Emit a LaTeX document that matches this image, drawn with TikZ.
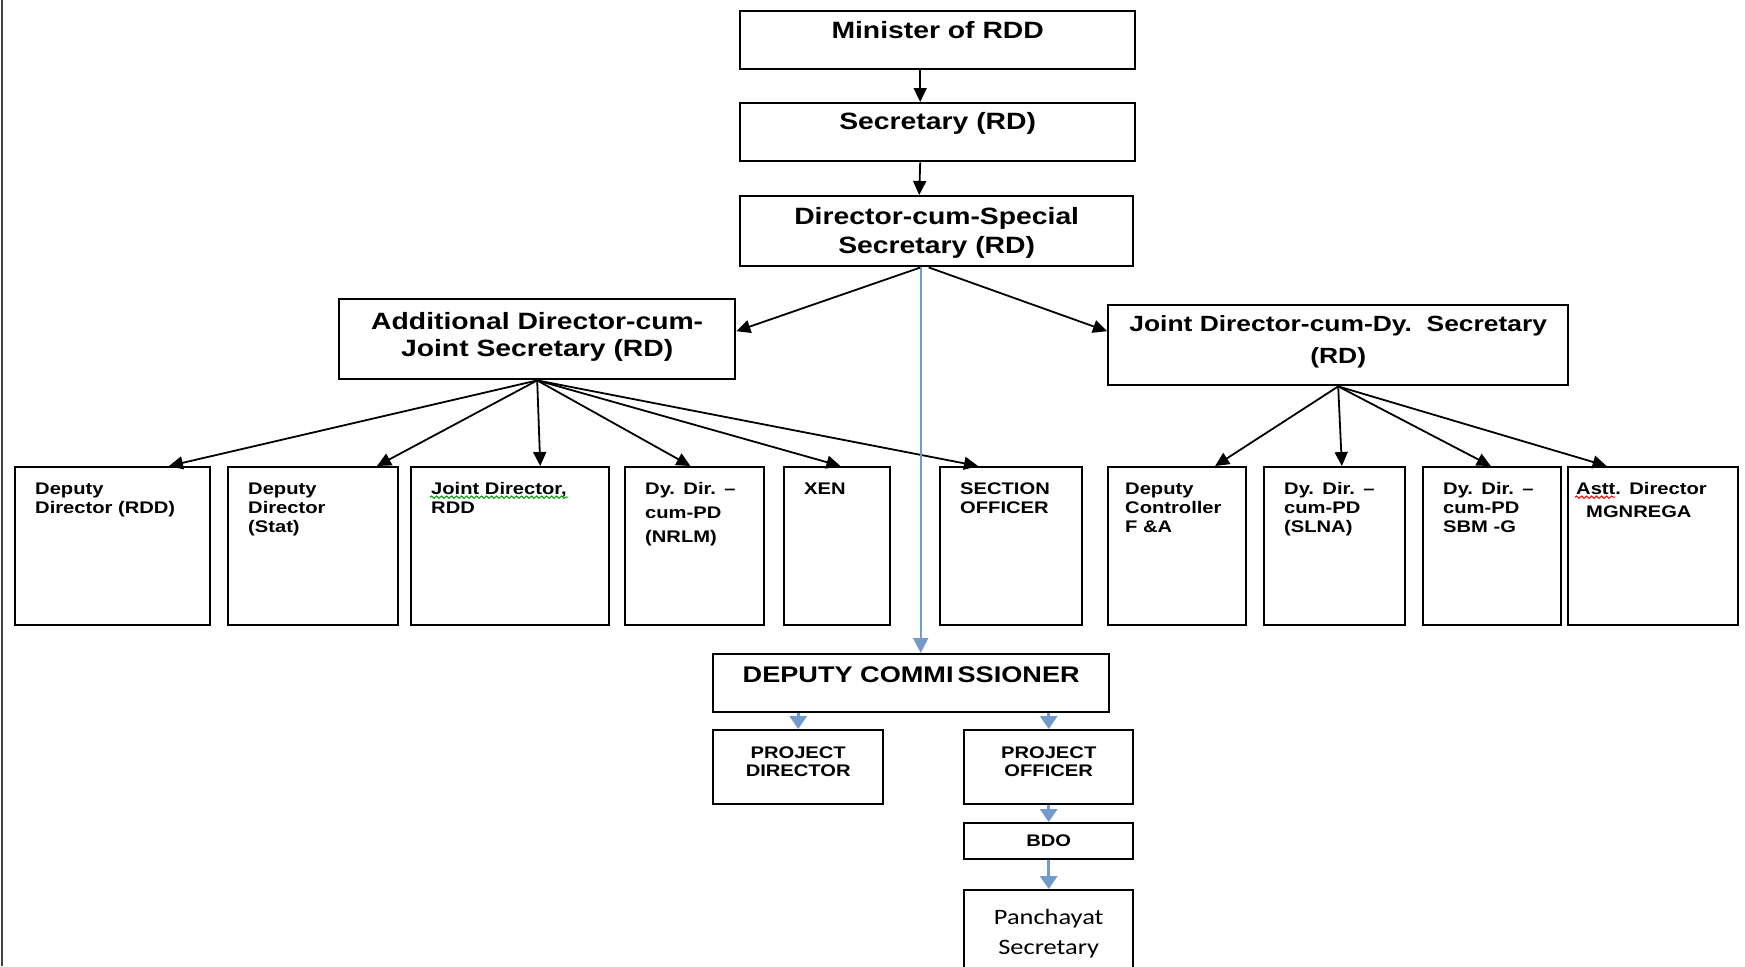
\documentclass[tikz,border=0pt]{standalone}
\usepackage{fontspec}
\setmainfont{Liberation Sans}[FakeStretch=1.2]
\newfontfamily\calfont{Carlito}[FakeStretch=1.2]
\usetikzlibrary{arrows.meta,calc,decorations.pathmorphing}

\definecolor{linkblue}{RGB}{114,155,204}

\tikzset{
    post/.style={draw, line width=1.2pt, anchor=north west, inner ysep=0pt},
    headpost/.style={post, inner xsep=0pt, align=center, font=\bfseries\fontsize{11.8}{14.5}\selectfont},
    unit/.style={post, inner xsep=10pt, align=left, text height=13.5pt, text depth=65.5pt,
        font=\bfseries\fontsize{8.4}{9.6}\selectfont},
    link/.style={-{Triangle[length=7pt,width=6.5pt]}, line width=0.9pt},
    bluelink/.style={-{Triangle[length=7.5pt,width=7.5pt]}, line width=1pt, linkblue},
    stub/.style={-{Triangle[length=6.5pt,width=8.5pt]}, line width=1.6pt, linkblue},
    squiggle/.style={decorate, decoration={snake, amplitude=0.6pt, segment length=2.5pt}, line width=0.5pt}
}

\begin{document}
\begin{tikzpicture}[x=0.5pt,y=-0.5pt]
    \useasboundingbox (0,0) rectangle (1745,966);
    \clip (0,0) rectangle (1745,966);

    % page edge
    \draw[line width=1.2pt, black!75] (2,0) -- (2,966);

    % head of the department
    \node[headpost, text width=197.5pt, text height=13.5pt, text depth=15.5pt] (min) at (739,10) {Minister of RDD};
    \node[headpost, text width=197.5pt, text height=13pt, text depth=16pt] (sec) at (739,102) {Secretary (RD)};
    \node[headpost, text width=196.5pt, text height=14pt, text depth=21pt] (dir) at (739,195) {Director-cum-Special\\Secretary (RD)};
    \node[headpost, text width=198pt, text height=15pt, text depth=25pt,
        font=\bfseries\fontsize{11.8}{13.5}\selectfont] (add) at (338,298) {Additional Director-cum-\\Joint Secretary (RD)};
    \node[headpost, text width=230pt, text height=13pt, text depth=27pt,
        font=\bfseries\fontsize{11}{16}\selectfont] (jd) at (1107,304) {Joint Director-cum-Dy.\ \ Secretary\\(RD)};

    % officers under the two directors
    \node[unit, text width=77.5pt] (u1) at (14,466) {Deputy\\Director (RDD)};
    \node[unit, text width=65pt] (u2) at (227,466) {Deputy\\Director\\(Stat)};
    \node[unit, text width=79pt] (u3) at (410,466) {Joint Director,\\RDD};
    \node[unit, text width=49.5pt, font=\bfseries\fontsize{8.4}{12}\selectfont] (u4) at (624,466) {Dy. Dir. –\\cum-PD\\(NRLM)};
    \node[unit, text width=33pt] (u5) at (783,466) {XEN};
    \node[unit, text width=51pt] (u6) at (939,466) {SECTION\\OFFICER};
    \node[unit, inner xsep=8.5pt, text width=52pt] (u7) at (1107,466) {Deputy\\Controller\\F \&A};
    \node[unit, text width=50.5pt] (u8) at (1263,466) {Dy. Dir. –\\cum-PD\\(SLNA)};
    \node[unit, text width=49pt] (u9) at (1422,466) {Dy. Dir. –\\cum-PD\\SBM -G};
    \node[unit, inner xsep=4pt, text width=77pt, font=\bfseries\fontsize{8.4}{11.7}\selectfont] (u10) at (1567,466) {Astt. Director\\\hspace*{5pt}MGNREGA};

    % district level
    \node[headpost, text width=198pt, text height=14pt, text depth=15pt,
        font=\bfseries\fontsize{11.3}{14}\selectfont] (dc) at (712,653) {DEPUTY COMMI\kern2pt SSIONER};
    \node[headpost, text width=85pt, text height=14pt, text depth=23pt,
        font=\bfseries\fontsize{8.4}{9}\selectfont] (pd) at (712,729) {PROJECT\\DIRECTOR};
    \node[headpost, text width=84.5pt, text height=14pt, text depth=23pt,
        font=\bfseries\fontsize{8.4}{9}\selectfont] (po) at (963,729) {PROJECT\\OFFICER};
    \node[headpost, text width=84.5pt, text height=11.5pt, text depth=6.5pt,
        font=\bfseries\fontsize{8.4}{9}\selectfont] (bdo) at (963,822) {BDO};
    \node[headpost, text width=84.5pt, text height=17pt, text depth=40pt,
        font=\calfont\fontsize{11}{15}\selectfont] (ps) at (963,889) {Panchayat\\Secretary};

    % chain of command
    \draw[link] ([xshift=-8.75pt]min.south) -- ([xshift=-8.75pt]sec.north);
    \draw[link] ([xshift=-8.75pt]sec.south) -- ([xshift=-8.75pt]dir.north);
    \draw[link] ([xshift=-8pt]dir.south) -- ([yshift=4pt]add.east);
    \draw[link] ([xshift=-4pt]dir.south) -- ([yshift=7pt]jd.west);

    \foreach \u/\f in {u1/0.785, u2/0.87, u3/0.65, u4/0.47, u5/0.53, u6/0.27}
        \draw[link] (add.south) -- ($(\u.north west)!\f!(\u.north east)$);
    \foreach \u/\f in {u7/0.77, u8/0.55, u9/0.49, u10/0.23}
        \draw[link] (jd.south) -- ($(\u.north west)!\f!(\u.north east)$);

    % blue links to the district
    \coordinate (tap) at ([xshift=-8pt]dir.south);
    \draw[bluelink] (tap) -- (tap |- dc.north);
    \draw[stub] (dc.south -| pd.north) -- (pd.north);
    \draw[stub] (dc.south -| po.north) -- (po.north);
    \draw[stub] (po.south) -- (bdo.north);
    \draw[stub] (bdo.south) -- (ps.north);

    % spell check marks
    \draw[squiggle, green!60!black] ([shift={(10pt,-1.5pt)}]u3.base west) -- ++(138,0);
    \draw[squiggle, red] ([shift={(4pt,-1.5pt)}]u10.base west) -- ++(40,0);
\end{tikzpicture}
\end{document}
